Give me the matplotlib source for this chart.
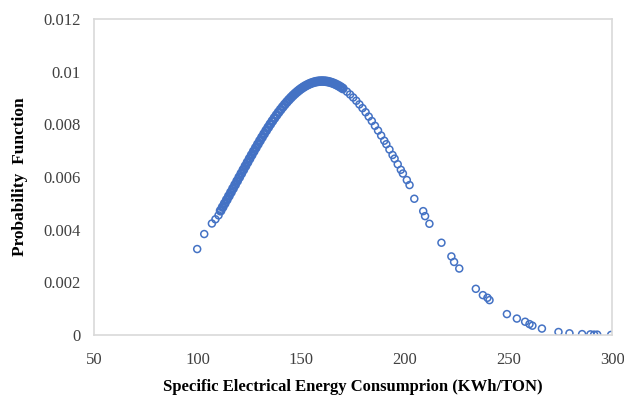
import matplotlib
matplotlib.use("Agg")
import matplotlib.pyplot as plt

# sparse points on the left tail
left_x = [99.7, 103.1, 106.8, 108.5, 110.0]
left_y = [0.00327, 0.00384, 0.00424, 0.00440, 0.00455]

# dense part of the curve, 111 .. 170
mid_x = list(range(111, 171))
mid_y = [0.004725, 0.004863, 0.005002, 0.005143, 0.005284, 0.005425, 0.005568,
         0.005710, 0.005853, 0.005996, 0.006138, 0.006280, 0.006422, 0.006563,
         0.006703, 0.006842, 0.006980, 0.007116, 0.007251, 0.007384, 0.007514,
         0.007643, 0.007769, 0.007892, 0.008013, 0.008131, 0.008245, 0.008356,
         0.008464, 0.008567, 0.008667, 0.008763, 0.008855, 0.008942, 0.009025,
         0.009104, 0.009177, 0.009245, 0.009309, 0.009367, 0.009420, 0.009468,
         0.009510, 0.009547, 0.009578, 0.009604, 0.009624, 0.009639, 0.009647,
         0.009650, 0.009647, 0.009639, 0.009624, 0.009604, 0.009578, 0.009547,
         0.009510, 0.009468, 0.009420, 0.009367]

# right side, points get further apart
right_x = [172, 173.5, 175, 176.5, 178, 179.5, 181, 182.5, 184, 185.5, 187,
           188.5, 190, 191, 192.5, 194, 195, 196.5, 198, 199,
           200.9, 202.2, 204.5, 208.8, 209.7, 211.8, 217.6, 222.4, 223.7,
           226.2, 234.2, 237.6, 239.8, 240.8, 249.2, 254.0, 258.0, 260.1,
           261.5, 266.1, 274.1, 279.4, 285.5, 289.5, 291.3, 292.8, 299.5]
right_y = [0.009245, 0.00914, 0.009025, 0.00890, 0.008763, 0.00862, 0.008464,
           0.00830, 0.008131, 0.00795, 0.007769, 0.00758, 0.007384, 0.007251,
           0.00705, 0.006842, 0.006703, 0.00649, 0.006280, 0.006138,
           0.00589, 0.00570, 0.00518, 0.00471, 0.00452, 0.00423, 0.00351,
           0.00299, 0.00278, 0.00253, 0.00176, 0.00152, 0.00142, 0.00133,
           0.00080, 0.00063, 0.00051, 0.00042, 0.00036, 0.00025, 0.00012,
           0.00007, 0.00004, 0.00003, 0.00002, 0.00002, 0.00001]

x_ticks = [50, 100, 150, 200, 250, 300]
y_ticks = [0, 0.002, 0.004, 0.006, 0.008, 0.01, 0.012]
y_labels = ["0", "0.002", "0.004", "0.006", "0.008", "0.01", "0.012"]

plt.rcParams['font.family'] = ['Liberation Serif', 'DejaVu Serif']

fig = plt.figure(figsize=(6.24, 3.99), dpi=100)
ax = fig.add_axes([0.151, 0.160, 0.830, 0.792])

blue = '#4472C4'
ax.scatter(left_x + right_x, left_y + right_y, s=25, facecolors='none',
           edgecolors=blue, linewidths=1.1)
# the crowded middle reads as a solid band in the original
ax.scatter(mid_x, mid_y, s=25, facecolors='none', edgecolors=blue, linewidths=2.0)

ax.set_xlim(50, 300)
ax.set_ylim(0, 0.012)
ax.set_xticks(x_ticks)
ax.set_yticks(y_ticks)
ax.set_yticklabels(y_labels)
ax.tick_params(length=0, labelsize=12, colors='#404040')
ax.tick_params(axis='x', pad=12)
ax.tick_params(axis='y', pad=10)

for s in ax.spines.values():
    s.set_color('#d9d9d9')
    s.set_linewidth(1.2)

ax.set_xlabel("Specific Electrical Energy Consumprion (KWh/TON)",
              fontsize=12, fontweight='bold', labelpad=8)
ax.set_ylabel("Probability  Function", fontsize=12.5, fontweight='bold', labelpad=11)

fig.savefig("out.png", dpi=100)
